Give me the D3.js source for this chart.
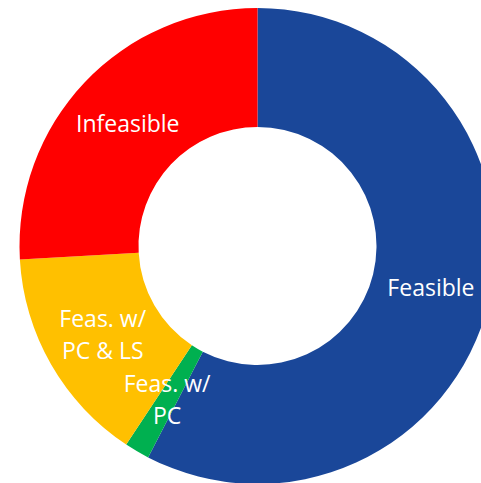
<!DOCTYPE html>
<html>
<head>
<meta charset="utf-8">
<script src="https://cdn.jsdelivr.net/npm/d3@7"></script>
<style>
  html, body { margin: 0; padding: 0; background: #ffffff; }
  svg { display: block; }
</style>
</head>
<body>
<svg id="chart" width="481" height="483"></svg>
<script>
// Share of outcomes, drawn clockwise from twelve o'clock
const categories = ["Feasible", "Feas. w/ PC", "Feas. w/ PC & LS", "Infeasible"];
const labelLines = [["Feasible"], ["Feas. w/", "PC"], ["Feas. w/", "PC & LS"], ["Infeasible"]];
const values = [57.6, 1.7, 14.8, 25.9];
const colors = ["#1A4799", "#00B050", "#FFC000", "#FF0000"];

const width = 481, height = 483;
const cx = 257.5, cy = 246;
const outerR = 238, innerR = 119;

const svg = d3.select("#chart");
const g = svg.append("g").attr("transform", `translate(${cx},${cy})`);

const pie = d3.pie().sort(null).value(d => d.value);
const arc = d3.arc().innerRadius(innerR).outerRadius(outerR);

const data = categories.map((c, i) => ({ name: c, value: values[i], lines: labelLines[i], color: colors[i] }));
const arcs = pie(data);

g.selectAll("path.slice")
  .data(arcs)
  .join("path")
  .attr("class", "slice")
  .attr("d", arc)
  .attr("fill", d => d.data.color);

const lineH = 31.5;
const labels = g.selectAll("text.label")
  .data(arcs)
  .join("text")
  .attr("class", "label")
  .attr("transform", d => `translate(${arc.centroid(d)})`)
  .attr("text-anchor", "middle")
  .attr("fill", "#ffffff")
  .style("font-family", "'Open Sans', sans-serif")
  .style("font-size", "23px");

labels.each(function(d) {
  const n = d.data.lines.length;
  d3.select(this).selectAll("tspan")
    .data(d.data.lines)
    .join("tspan")
    .attr("x", 0)
    .attr("y", (t, i) => (i - (n - 1) / 2) * lineH)
    .attr("dy", "0.36em")
    .text(t => t);
});
</script>
</body>
</html>
